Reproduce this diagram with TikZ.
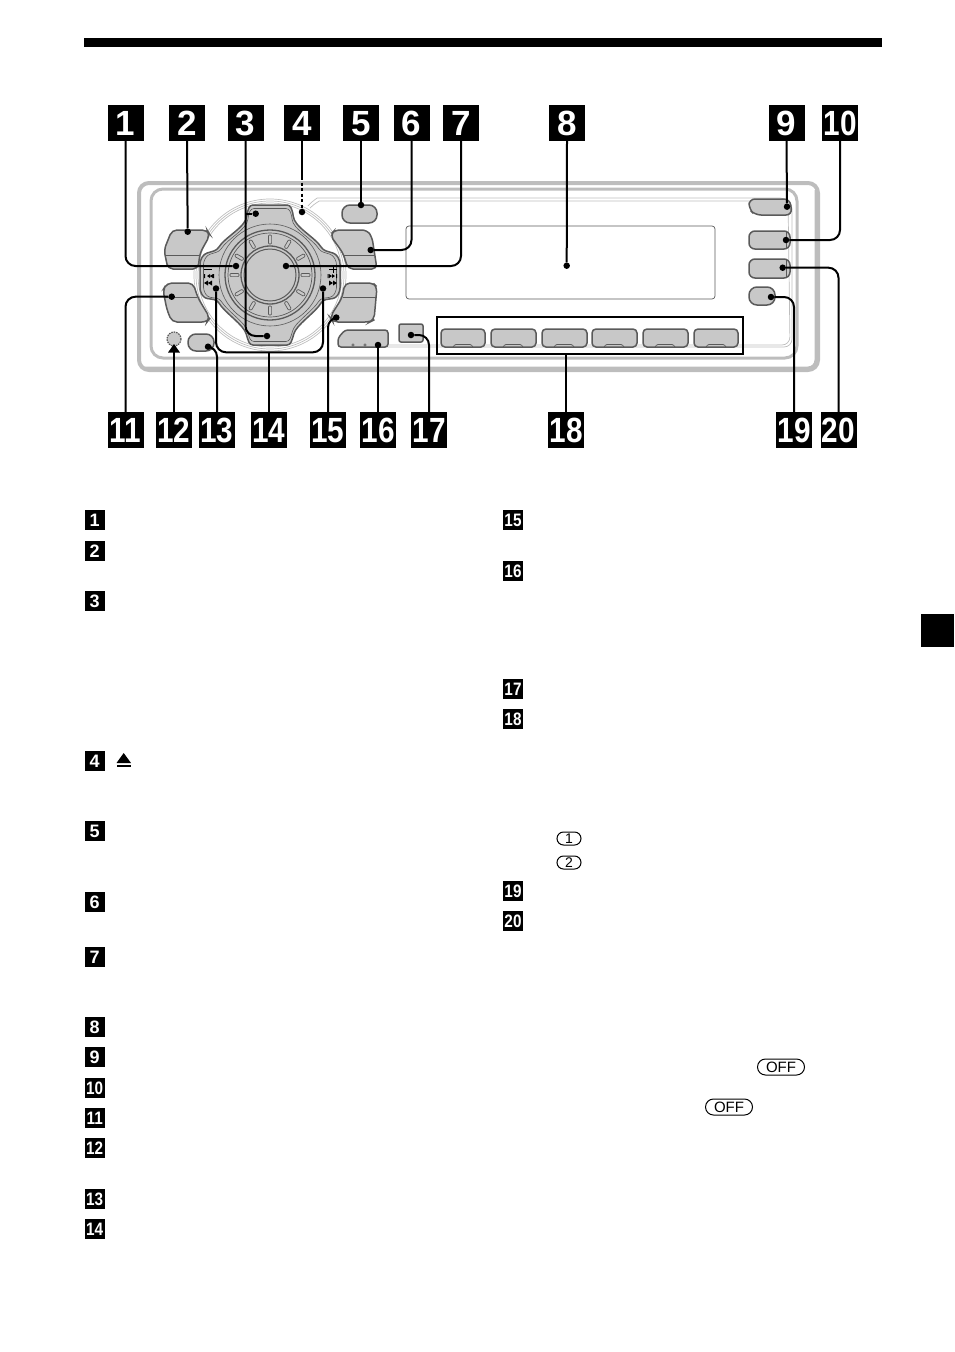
\documentclass[tikz,border=0pt]{standalone}
\usepackage{fontspec}
\usepackage{graphicx}
\setmainfont{Liberation Sans}
\definecolor{panelgray}{HTML}{BDBDBD}
\definecolor{btngray}{HTML}{C8C8C8}
\definecolor{btnedge}{HTML}{5A5A5A}
\newcommand{\narrow}[1]{\scalebox{.85}[1]{#1}}
\newcommand{\dialcross}{(-20,-70) -- (20,-70) -- (23,-62) .. controls (24,-48) and (45,-38) .. (53,-25) -- (66,-21) -- (70,-14) -- (70,16) -- (66,23) -- (53,25) .. controls (45,38) and (26,50) .. (23,62) -- (20,70) -- (-20,70) -- (-23,62) .. controls (-26,50) and (-45,38) .. (-53,25) -- (-66,23) -- (-70,16) -- (-70,-14) -- (-66,-21) -- (-53,-25) .. controls (-45,-38) and (-24,-48) .. (-23,-62) -- cycle}
\tikzset{
  tag/.style={fill=black,text=white,minimum size=36,inner sep=0,text height=25,text depth=0,font=\bfseries\fontsize{35}{35}\selectfont},
  listtag/.style={fill=black,text=white,minimum size=20,inner sep=0,text height=13,text depth=0,font=\bfseries\fontsize{18}{18}\selectfont},
  dotnode/.style={circle,fill=black,minimum size=6.5,inner sep=0},
  leader/.style={line width=2,rounded corners=10},
  btn/.style={fill=btngray,draw=btnedge,line width=1.5,rounded corners=4},
  frame/.style={draw=panelgray,rounded corners=10},
  keypill/.style={draw,line width=1,rounded corners=6.5,minimum height=13,inner sep=0,font=\fontsize{14}{14}\selectfont}
}
\begin{document}
\begin{tikzpicture}[x=1pt,y=-1pt]
  \useasboundingbox (0,0) rectangle (954,1352);
  % page marks
  \fill (84,38) rectangle (882,47);
  \fill (921,614) rectangle (954,647);
  % front panel
  \draw[frame,line width=4] (139,183) rectangle (818,370);
  \draw[panelgray,line width=3,rounded corners=8] (816,190) -- (816,368) -- (145,368);
  \draw[frame,line width=3,rounded corners=12] (151,189) rectangle (797,358);
  \draw[panelgray,line width=.7,rounded corners=8] (308,206) .. controls (313,200) and (318,198) .. (325,198) -- (788,198) -- (790,345) -- (345,345);
  \draw[panelgray,line width=.7,rounded corners=8] (310,208) .. controls (315,203) and (320,201) .. (327,201) -- (792,201) -- (792,347) -- (345,347);
  \draw[btnedge,line width=.7,rounded corners=3] (406,226) rectangle (715,299);
  % dial
  \begin{scope}[shift={(270,275)}]
    \draw[panelgray,line width=.7] (0,0) circle (72);
    \draw[panelgray,line width=.7] (0,0) circle (74);
    \draw[panelgray,line width=.7] (0,0) circle (76);
    \draw[fill=btngray,draw=btnedge,line width=1.5,rounded corners=3] \dialcross;
    \draw[btnedge,line width=.6,rounded corners=3,scale=.95] \dialcross;
    \draw[btnedge,line width=.6] (0,0) circle (51);
    \draw[btnedge,line width=1.3] (0,0) circle (45);
    \draw[btnedge,line width=.7] (0,0) circle (42);
    \foreach \a in {0,30,...,330}
      \draw[fill=btngray,draw=btnedge,line width=.7,rounded corners=1,rotate=\a] (31,-1.6) rectangle (40,1.6);
    \draw[btnedge,line width=1.3] (0,0) circle (29);
    \draw[fill=btngray,draw=btnedge,line width=1] (0,0) circle (26);
  \end{scope}
  % skip marks
  \draw[line width=.8] (204,269) -- (212,269);
  \draw[line width=.8] (329,269) -- (337,269) (333,265) -- (333,273);
  \fill (207,276) -- (210,274) -- (210,278) -- cycle (210,276) -- (213,274) -- (213,278) -- cycle;
  \fill (204,274) rectangle (205,278) (213,274) rectangle (214,278);
  \fill (204,283) -- (208,280.5) -- (208,285.5) -- cycle (208,283) -- (212,280.5) -- (212,285.5) -- cycle;
  \fill (332,276) -- (329,274) -- (329,278) -- cycle (335,276) -- (332,274) -- (332,278) -- cycle;
  \fill (336,274) rectangle (337,278) (327.5,274) rectangle (328.5,278);
  \fill (337,283) -- (333,280.5) -- (333,285.5) -- cycle (333,283) -- (329,280.5) -- (329,285.5) -- cycle;
  % buttons
  \draw[btn,rounded corners=5] (172,230) -- (207,230) -- (210,235) -- (200,253) -- (198,269) -- (168,269) -- (164,250) -- cycle;
  \draw[btnedge,line width=.6] (165,255) -- (200,255);
  \draw[btn,rounded corners=5] (167,283) -- (193,283) -- (198,298) -- (210,318) -- (207,322) -- (172,322) -- (167,310) -- (163,290) -- cycle;
  \draw[btnedge,line width=.6] (165,297) -- (197,297);
  \draw[btn,rounded corners=5] (330,235) -- (335,230) -- (367,230) -- (372,237) -- (377,269) -- (348,269) -- (343,253) -- cycle;
  \draw[btnedge,line width=.6] (343,255) -- (375,255);
  \draw[btn,rounded corners=5] (345,283) -- (373,283) -- (377,287) -- (374,320) -- (370,322) -- (333,322) -- (330,317) -- (342,298) -- cycle;
  \draw[btnedge,line width=.6] (343,297) -- (376,297);
  \draw[btn,rounded corners=8] (342,205) rectangle (377,223);
  \draw[btn,rounded corners=8] (188,334) rectangle (214,351);
  \draw[btn,rounded corners=3] (338,338) -- (345,330) -- (388,330) -- (388,347) -- (338,347) -- cycle;
  \draw[btnedge,line width=.5] (353,345) circle (1.2) (365,345) circle (1.2);
  \draw[btn,rounded corners=2] (399,324) rectangle (423,342);
  \draw[fill=btngray,draw=btnedge,line width=1.2,dash pattern=on 1.5 off 1] (174,339) circle (7);
  % presets
  \draw[btn] (441,329) rectangle (485,347);
  \draw[btn] (491,329) rectangle (536,347);
  \draw[btn] (542,329) rectangle (587,347);
  \draw[btn] (592,329) rectangle (637,347);
  \draw[btn] (643,329) rectangle (688,347);
  \draw[btn] (694,329) rectangle (738,347);
  \foreach \x in {463,513,564,614,665,716}
    \draw[btnedge,line width=.7,rounded corners=1] (\x-10,347) -- (\x-8,344.5) -- (\x+8,344.5) -- (\x+10,347);
  \draw[btn,rounded corners=6] (749,199) -- (790,199) -- (792,215) -- (755,215) -- (749,209) -- cycle;
  \draw[btn,rounded corners=6] (749,231) rectangle (790,249);
  \draw[btn,rounded corners=6] (749,259) rectangle (790,278);
  \draw[btnedge,line width=.7] (786,232) -- (786,248) (786,260) -- (786,277);
  \draw[btn,rounded corners=8] (749,287) rectangle (775,305);
  \draw[line width=2] (437,317) rectangle (743,354);
  % callout numbers
  \draw
    (125.5,123) node[tag] (1){1}
    (187,123) node[tag] (2){2}
    (245.5,123) node[tag] (3){3}
    (302,123) node[tag] (4){4}
    (361,123) node[tag] (5){5}
    (411.5,123) node[tag] (6){6}
    (461,123) node[tag] (7){7}
    (567,123) node[tag] (8){8}
    (786.5,123) node[tag] (9){9}
    (840,123) node[tag] (10){\narrow{10}}
    (125.5,430) node[tag] (11){\narrow{11}}
    (174,430) node[tag] (12){\narrow{12}}
    (217,430) node[tag] (13){\narrow{13}}
    (269,430) node[tag] (14){\narrow{14}}
    (328,430) node[tag] (15){\narrow{15}}
    (378,430) node[tag] (16){\narrow{16}}
    (429,430) node[tag] (17){\narrow{17}}
    (566,430) node[tag] (18){\narrow{18}}
    (794,430) node[tag] (19){\narrow{19}}
    (838.5,430) node[tag] (20){\narrow{20}};
  % leader ends
  \draw
    (236,266) node[dotnode] (d1){}
    (187.7,231.7) node[dotnode] (d2){}
    (267,336) node[dotnode] (d3){}
    (255.7,213.7) node[dotnode] (d3b){}
    (302,212) node[dotnode] (d4){}
    (361,205) node[dotnode] (d5){}
    (370.7,250) node[dotnode] (d6){}
    (286,266) node[dotnode] (d7){}
    (566.7,265.7) node[dotnode] (d8){}
    (787,206.7) node[dotnode] (d9){}
    (786,240) node[dotnode] (d10){}
    (171.7,296.7) node[dotnode] (d11){}
    (208,346.7) node[dotnode] (d13){}
    (216,288.5) node[dotnode] (d14){}
    (323,288.5) node[dotnode] (d14b){}
    (336.3,317.5) node[dotnode] (d15){}
    (378,345) node[dotnode] (d16){}
    (411,335) node[dotnode] (d17){}
    (771,297) node[dotnode] (d19){}
    (782.7,267.7) node[dotnode] (d20){};
  \coordinate (b14) at (269,352.3);
  \coordinate (b18) at (566,354);
  \coordinate (s4) at (302,177);
  \coordinate (a12) at (174,350);
  \begin{scope}[leader]
    \draw (1.south) |- (d1);
    \draw (2.south) -- (d2);
    \draw (3.south) |- (d3);
    \draw (3.south |- d3b) -- (d3b);
    \draw (4.south) -- (s4);
    \draw[dash pattern=on 3 off 2.5] (s4) -- (d4);
    \draw (5.south) -- (d5);
    \draw (6.south) |- (d6);
    \draw (7.south) |- (d7);
    \draw (8.south) -- (d8);
    \draw (9.south) -- (d9);
    \draw (10.south) |- (d10);
    \draw (11.north) |- (d11);
    \draw (12.north) -- (a12);
    \draw (13.north) |- (d13);
    \draw (14.north) -- (b14);
    \draw (d14) |- (b14) -| (d14b);
    \draw (15.north) |- (d15);
    \draw (16.north) -- (d16);
    \draw (17.north) |- (d17);
    \draw (18.north) -- (b18);
    \draw (19.north) |- (d19);
    \draw (20.north) |- (d20);
  \end{scope}
  \fill (174,344) -- (180,352.5) -- (168,352.5) -- cycle;
  % list numbers
  \draw
    (94.7,520) node[listtag] (l1){1}
    (94.7,551) node[listtag] (l2){2}
    (94.7,601) node[listtag] (l3){3}
    (94.7,761) node[listtag] (l4){4}
    (94.7,831) node[listtag] (l5){5}
    (94.7,902) node[listtag] (l6){6}
    (94.7,957) node[listtag] (l7){7}
    (94.7,1027) node[listtag] (l8){8}
    (94.7,1057) node[listtag] (l9){9}
    (94.7,1088) node[listtag] (l10){\narrow{10}}
    (94.7,1118) node[listtag] (l11){\narrow{11}}
    (94.7,1148) node[listtag] (l12){\narrow{12}}
    (94.7,1199) node[listtag] (l13){\narrow{13}}
    (94.7,1229) node[listtag] (l14){\narrow{14}}
    (513,520) node[listtag] (l15){\narrow{15}}
    (513,571) node[listtag] (l16){\narrow{16}}
    (513,689) node[listtag] (l17){\narrow{17}}
    (513,719) node[listtag] (l18){\narrow{18}}
    (513,891) node[listtag] (l19){\narrow{19}}
    (513,921) node[listtag] (l20){\narrow{20}};
  % eject mark
  \fill (123.7,753) -- (131,763) -- (116.5,763) -- cycle;
  \fill (116.5,764.5) rectangle (131,767);
  % key marks
  \draw
    (569,838.5) node[keypill,minimum width=24] (k1){1}
    (569,862.5) node[keypill,minimum width=24] (k2){2}
    (781,1067) node[keypill,minimum width=47,minimum height=16,rounded corners=8,font=\fontsize{15}{15}\selectfont] (k3){OFF}
    (729,1107) node[keypill,minimum width=47,minimum height=16,rounded corners=8,font=\fontsize{15}{15}\selectfont] (k4){OFF};
\end{tikzpicture}
\end{document}
